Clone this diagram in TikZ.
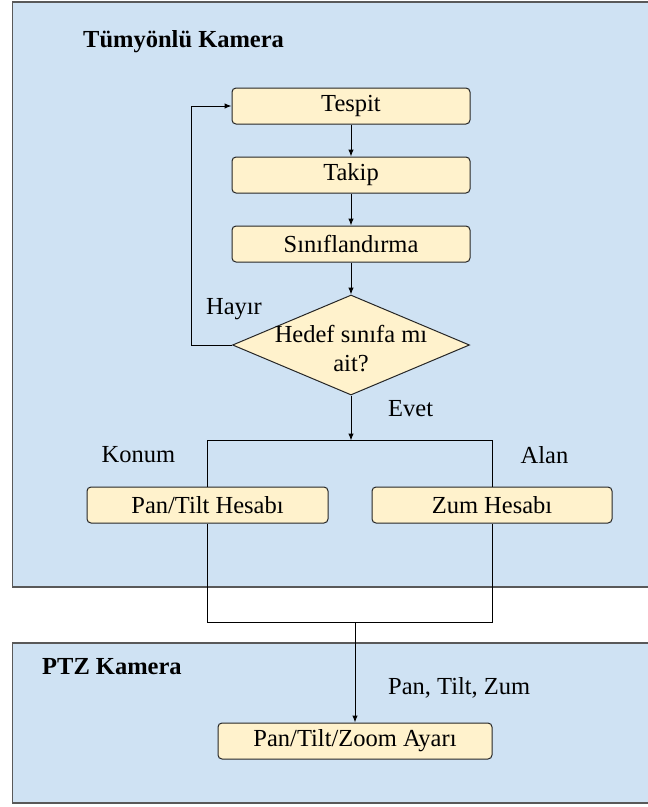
\documentclass[tikz,border=0pt]{standalone}
\usepackage{fontspec}
\setmainfont{Liberation Serif}
\usetikzlibrary{positioning,shapes.geometric,arrows.meta}

\definecolor{mavi}{HTML}{CFE2F3}
\definecolor{sari}{HTML}{FFF2CC}
\definecolor{cerceve}{HTML}{595959}

\tikzset{
  yazi/.style={font=\fontsize{24.5}{29}\selectfont, inner sep=0pt},
  baslik/.style={font=\fontsize{24.5}{29}\selectfont\bfseries, inner sep=0pt},
  kutu/.style={yazi, draw=black!85, fill=sari, rounded corners=4pt, line width=1pt,
    minimum width=238pt, minimum height=36pt},
  karar/.style={diamond, draw=black!85, fill=sari, line width=1pt,
    minimum width=237pt, minimum height=100pt, inner sep=0pt},
  panel/.style={draw=cerceve, fill=mavi, line width=1.5pt},
  ok/.style={-{Latex[length=7pt,width=5.5pt]}, line width=1pt},
  hat/.style={line width=1pt}
}

\begin{document}
\begin{tikzpicture}[x=1pt, y=1pt, node distance=32pt]

  \useasboundingbox (0,0) rectangle (648,-807);
  \clip (0,0) rectangle (648,-807);

  \draw [panel] (12.5,-2) rectangle (660,-587);
  \draw [panel] (12.5,-643) rectangle (660,-803);

  \node (baslik1) [baslik, anchor=base west] at (83,-47) {Tümyönlü Kamera};
  \node (baslik2) [baslik, anchor=base west] at (42,-674) {PTZ Kamera};

  \node (tespit) [kutu] at (351,-106) {Tespit};
  \node (takip) [kutu, below=of tespit] {Takip};
  \node (sinif) [kutu, below=of takip] {Sınıflandırma};
  \node (karar) [karar, below=of sinif] {};
  \node (soru) [yazi, align=center, yshift=-4pt] at (karar) {Hedef sınıfa mı\\ait?};

  \node (hayir) [yazi, above=25pt of karar.west, xshift=2pt] {Hayır};
  \node (evet) [yazi, below right=5pt and 37pt of karar.south] {Evet};
  \node (dal) [coordinate, below=45pt of karar.south] {};

  \node (panhesap) [kutu, minimum width=241pt, below=46pt of dal, xshift=-143.5pt] {Pan/Tilt Hesabı};
  \node (zumhesap) [kutu, minimum width=240pt, below=46pt of dal, xshift=141pt] {Zum Hesabı};
  \node (konum) [yazi, above right=24pt and 15pt of panhesap.north west] {Konum};
  \node (alan) [yazi, above left=23pt and 44pt of zumhesap.north east] {Alan};

  \node (birles) [coordinate, below=182pt of dal, xshift=4pt] {};
  \node (ayar) [kutu, minimum width=274pt, below=100pt of birles] {Pan/Tilt/Zoom Ayarı};
  \node (eksen) [yazi, above right=24pt and 33pt of ayar.north] {Pan, Tilt, Zum};

  \draw [ok] (tespit) -- (takip);
  \draw [ok] (takip) -- (sinif);
  \draw [ok] (sinif) -- (karar);
  \draw [ok] (karar.west) -- ++(-41pt,0) |- (tespit);
  \draw [ok] (karar) -- (dal);

  \draw [hat] (panhesap.north) |- (dal) -| (zumhesap.north);
  \draw [hat] (panhesap.south) |- (birles) -| (zumhesap.south);
  \draw [ok] (birles) -- (ayar);

\end{tikzpicture}
\end{document}
